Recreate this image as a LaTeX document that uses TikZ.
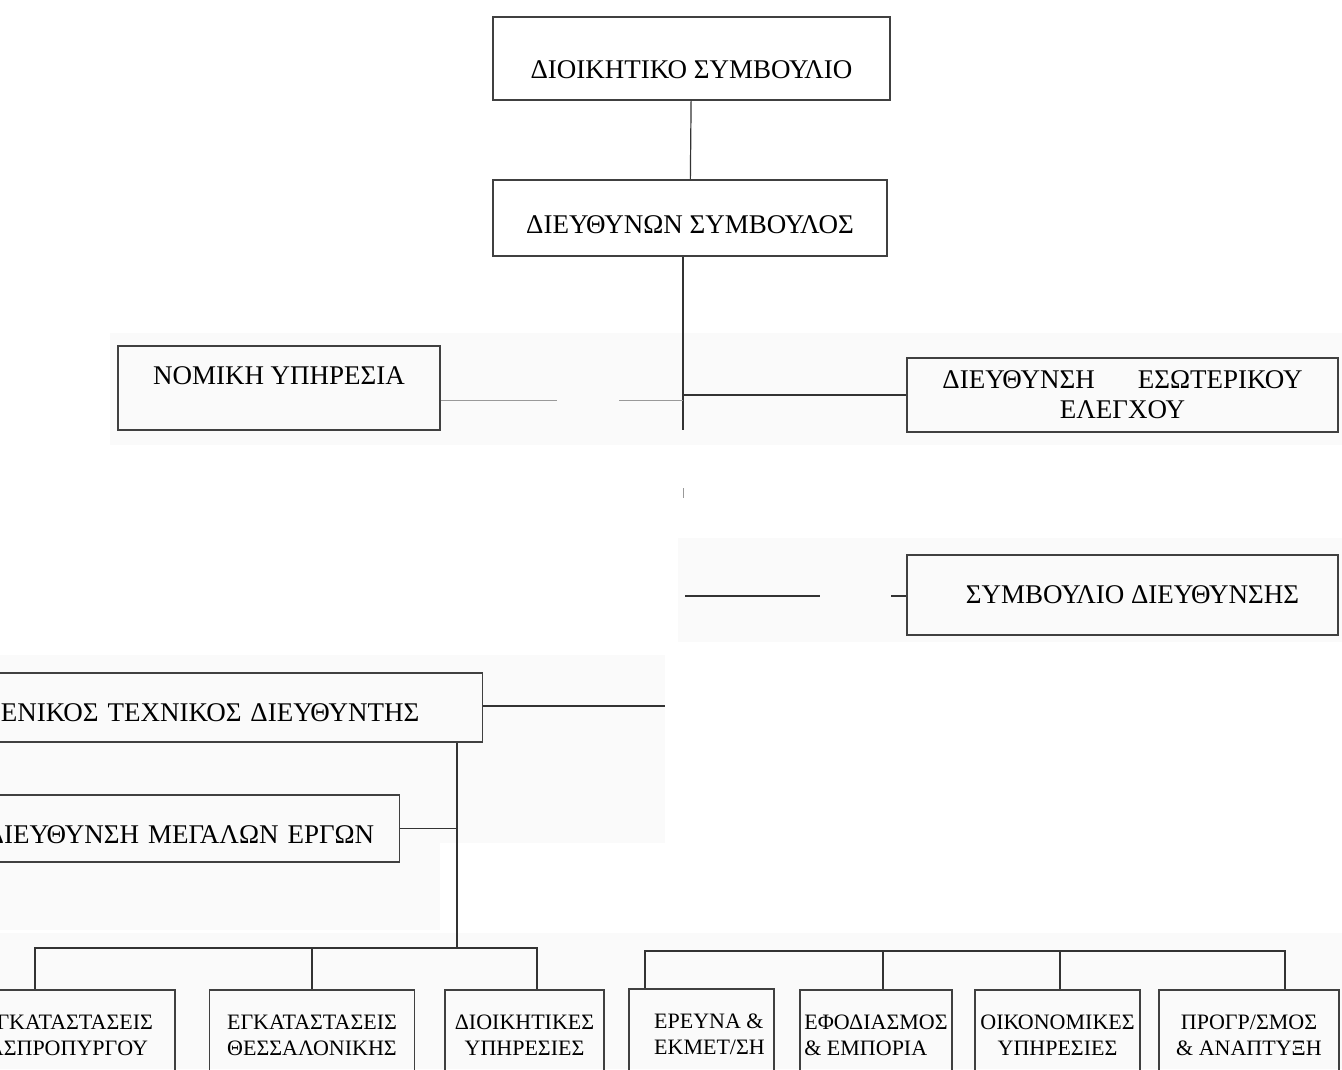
\documentclass[tikz,border=0pt]{standalone}
\usepackage{fontspec}
\setmainfont{Liberation Serif}
\newcommand\bigfnt{\fontsize{27}{30}\selectfont}
\newcommand\smallfnt{\fontsize{22}{26}\selectfont}
\tikzset{
	unit/.style={draw=black!75, line width=1.4pt, font=\bigfnt, inner sep=0pt},
	dept/.style={draw=black!75, line width=1.4pt, font=\smallfnt, align=center, inner sep=0pt, minimum height=90pt},
	link/.style={draw=black!80, line width=1.2pt},
	faint/.style={draw=black!40, line width=1pt},
	scanpatch/.style={fill=black!2, draw=none}
}

\begin{document}
\begin{tikzpicture}[x=1pt, y=-1pt]
		%%%%% START %%%%%
		\useasboundingbox (0,0) rectangle (1342,1069);
		\clip (0,0) rectangle (1342,1069);
		
		\fill[scanpatch] (110,333) rectangle (1342,445);
		\fill[scanpatch] (678,538) rectangle (1342,642);
		\fill[scanpatch] (0,655) rectangle (665,843);
		\fill[scanpatch] (0,843) rectangle (440,930);
		\fill[scanpatch] (0,933) rectangle (1342,1069);
		
		\node[unit, minimum width=397pt, minimum height=83pt, text height=40pt, text depth=0pt] (dsb) at (691.5,58.5) {ΔΙΟΙΚΗΤΙΚΟ ΣΥΜΒΟΥΛΙΟ};
		\node[unit, minimum width=394pt, minimum height=76pt, text height=31pt, text depth=0pt] (dsm) at (690,218) {ΔΙΕΥΘΥΝΩΝ ΣΥΜΒΟΥΛΟΣ};
		\node[unit, minimum width=322pt, minimum height=84pt, text height=17.5pt, text depth=24pt] (nom) at (279,388) {ΝΟΜΙΚΗ ΥΠΗΡΕΣΙΑ};
		\node[unit, minimum width=431pt, minimum height=74pt, align=center] (dee) at (1122.5,395) {ΔΙΕΥΘΥΝΣΗ\hspace{1.6em}ΕΣΩΤΕΡΙΚΟΥ\hspace{0.6em}\\ΕΛΕΓΧΟΥ};
		\node[unit, minimum width=431pt, minimum height=80pt] (sd) at (1122.5,595) {\hspace{20pt}ΣΥΜΒΟΥΛΙΟ ΔΙΕΥΘΥΝΣΗΣ};
		
		\node[unit, anchor=east, text width=620pt, align=right, inner xsep=63pt, minimum height=69pt, text height=28pt, text depth=0pt] (gtd) at (483,707.5) {ΓΕΝΙΚΟΣ ΤΕΧΝΙΚΟΣ ΔΙΕΥΘΥΝΤΗΣ};
		\node[unit, anchor=east, text width=620pt, align=right, inner xsep=25pt, minimum height=67pt, text height=30pt, text depth=0pt] (dme) at (400,828.5) {ΔΙΕΥΘΥΝΣΗ ΜΕΓΑΛΩΝ ΕΡΓΩΝ};
		
		\node[dept, minimum width=214pt] (ea) at (68,1035) {ΕΓΚΑΤΑΣΤΑΣΕΙΣ\\ΑΣΠΡΟΠΥΡΓΟΥ};
		\node[dept, minimum width=205pt] (eb) at (312,1035) {ΕΓΚΑΤΑΣΤΑΣΕΙΣ\\ΘΕΣΣΑΛΟΝΙΚΗΣ};
		\node[dept, minimum width=159pt] (ec) at (524.5,1035) {ΔΙΟΙΚΗΤΙΚΕΣ\\ΥΠΗΡΕΣΙΕΣ};
		\node[dept, minimum width=145pt, align=left] (ed) at (701.5,1034) {\hspace*{16pt}ΕΡΕΥΝΑ \&\\\hspace*{16pt}ΕΚΜΕΤ/ΣΗ};
		\node[dept, minimum width=152pt, align=left] (ee) at (876,1035) {ΕΦΟΔΙΑΣΜΟΣ\\\& ΕΜΠΟΡΙΑ};
		\node[dept, minimum width=165pt] (ef) at (1057.5,1035) {ΟΙΚΟΝΟΜΙΚΕΣ\\ΥΠΗΡΕΣΙΕΣ};
		\node[dept, minimum width=180pt] (eg) at (1249,1035) {ΠΡΟΓΡ/ΣΜΟΣ\\\& ΑΝΑΠΤΥΞΗ};
		
		\coordinate (trunk) at (683,430);
		\coordinate (tick) at (683,493);
		\coordinate (n1) at (557,400);
		\coordinate (n2) at (619,400);
		\coordinate (s1) at (685,596);
		\coordinate (s2) at (820,596);
		\coordinate (s3) at (891,596);
		\coordinate (g1) at (665,706);
		\coordinate (lbus) at (457,948);
		\coordinate (busL) at (35,948);
		\coordinate (busR) at (537,948);
		\coordinate (busR1) at (645,951);
		\coordinate (busR2) at (1285,951);
		\coordinate (busE) at (883,951);
		\coordinate (busF) at (1060,951);
		
		\draw[link] (dsb) -- (dsm);
		\draw[link] (dsm.south -| trunk) -- (trunk);
		\draw[faint] (tick) ++(0,-5) -- ++(0,10);
		\draw[link] (trunk |- dee.west) -- (dee.west);
		\draw[faint] (nom.east |- n1) -- (n1);
		\draw[faint] (n2) -- (n2 -| trunk);
		\draw[link] (s1) -- (s2);
		\draw[link] (s3) -- (sd.west |- s3);
		
		\draw[link] (gtd.east |- g1) -- (g1);
		\draw[link] (lbus |- gtd.south) -- (lbus);
		\draw[link] (dme.east) -- (dme.east -| lbus);
		
		\draw[link] (ea.north -| busL) -- (busL) -- (busR) -- (ec.north -| busR);
		\draw[link] (eb.north) -- (eb.north |- busL);
		\draw[link] (ed.north -| busR1) -- (busR1) -- (busR2) -- (eg.north -| busR2);
		\draw[link] (ee.north -| busE) -- (busE);
		\draw[link] (ef.north -| busF) -- (busF);
		%%%%% END %%%%%
\end{tikzpicture}
\end{document}
